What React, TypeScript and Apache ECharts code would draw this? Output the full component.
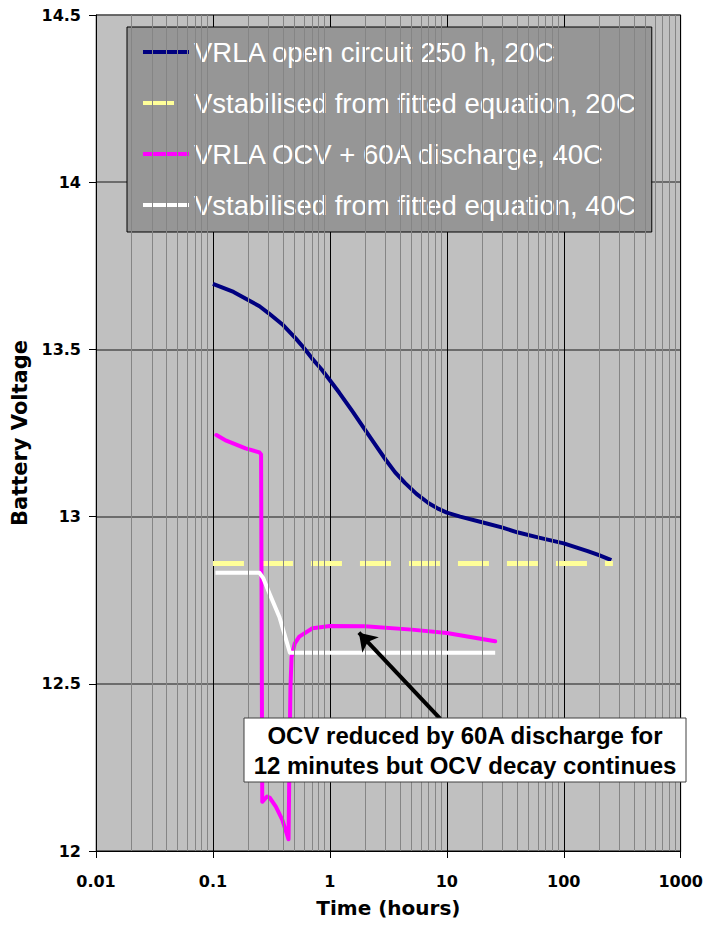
import React, { useEffect, useRef } from "react";
import * as echarts from "echarts";

// ---- data (time in hours, battery voltage in V) ----
const NAVY_T = [0.1, 0.15, 0.2, 0.25, 0.3, 0.4, 0.51, 0.6, 0.7, 0.85, 1, 1.2, 1.55, 2, 2.5, 3, 3.6, 4.4, 5.5, 7, 8.5, 10, 13, 20, 30, 40, 60, 100, 160, 200, 255];
const NAVY_V = [13.696, 13.672, 13.648, 13.629, 13.608, 13.572, 13.533, 13.504, 13.474, 13.44, 13.408, 13.371, 13.316, 13.259, 13.21, 13.17, 13.133, 13.1, 13.068, 13.04, 13.023, 13.012, 13.0, 12.983, 12.967, 12.953, 12.938, 12.92, 12.897, 12.885, 12.87];

const YELLOW_T = [0.1, 263];
const YELLOW_V = [12.86, 12.86];

const MAGENTA_T = [0.107, 0.13, 0.19, 0.25, 0.258, 0.264, 0.29, 0.305, 0.345, 0.392, 0.443, 0.452, 0.46, 0.47, 0.5, 0.547, 0.71, 1, 2, 5, 10, 25.9];
const MAGENTA_V = [13.244, 13.227, 13.204, 13.192, 13.186, 12.147, 12.163, 12.16, 12.133, 12.093, 12.035, 12.3, 12.49, 12.58, 12.62, 12.641, 12.666, 12.673, 12.672, 12.662, 12.652, 12.627];

const WHITE_T = [0.105, 0.25, 0.27, 0.3, 0.37, 0.455, 25.9];
const WHITE_V = [12.832, 12.832, 12.815, 12.775, 12.7, 12.593, 12.593];

const SERIES_NAMES = [
  "VRLA open circuit 250 h, 20C",
  "Vstabilised from fitted equation, 20C",
  "VRLA OCV + 60A discharge, 40C",
  "Vstabilised from fitted equation, 40C",
];
const SERIES_COLORS = ["#000080", "#ffff99", "#ff00ff", "#ffffff"];

const X_TICK_LABELS = ["0.01", "0.1", "1", "10", "100", "1000"];
const Y_MIN = 12;
const Y_MAX = 14.5;
const Y_STEP = 0.5;

// annotation arrow (tail at the text box, head near the magenta curve)
const ARROW_TAIL: [number, number] = [8.8, 12.395];
const ARROW_HEAD: [number, number] = [1.77, 12.653];
const NOTE_TEXT = "OCV reduced by 60A discharge for\n12 minutes but OCV decay continues";

const zip = (t: number[], v: number[]) => t.map((x, i) => [x, v[i]]);

const minorValues: number[] = [];
for (let d = -2; d <= 2; d++) {
  for (let k = 2; k <= 9; k++) {
    minorValues.push(Number((k * Math.pow(10, d)).toPrecision(3)));
  }
}

const SOLID_ICON = "path://M0,0H46V5H0Z";
const DASH_ICON = "path://M0,0H31V5H0ZM45.9,0H46V0.05H45.9Z";

export default function App() {
  const ref = useRef<HTMLDivElement>(null);

  useEffect(() => {
    if (!ref.current) return;
    const chart = echarts.init(ref.current, undefined, { renderer: "svg" });
    const axisFont = "DejaVu Sans";
    const option: any = {
      animation: false,
      backgroundColor: "#ffffff",
      grid: {
        left: 96,
        right: 23,
        top: 15,
        bottom: 74,
        show: true,
        backgroundColor: "#c0c0c0",
        borderColor: "#808080",
        borderWidth: 1,
      },
      legend: {
        data: SERIES_NAMES.map((n, i) => ({
          name: n,
          icon: i === 1 ? DASH_ICON : SOLID_ICON,
          itemStyle: { color: SERIES_COLORS[i], borderWidth: 0 },
          lineStyle: { width: 0 },
        })),
        orient: "vertical",
        left: 127,
        top: 27,
        padding: [11, 16, 13, 16],
        itemGap: 23,
        itemWidth: 46,
        itemHeight: 4,
        symbolKeepAspect: false,
        selectedMode: false,
        backgroundColor: "#969696",
        borderColor: "#000000",
        borderWidth: 1,
        itemStyle: { borderWidth: 0 },
        lineStyle: { width: 0 },
        textStyle: {
          color: "#ffffff",
          fontSize: 27.5,
          fontFamily: "Liberation Sans",
        },
      },
      xAxis: {
        type: "log",
        logBase: 10,
        min: 0.01,
        max: 1000,
        name: "Time (hours)",
        nameLocation: "middle",
        nameGap: 47,
        nameTextStyle: { fontFamily: axisFont, fontWeight: "bold", fontSize: 20, color: "#000" },
        axisLine: { show: true, lineStyle: { color: "#000", width: 1 } },
        axisTick: { show: true, length: 7, lineStyle: { color: "#000" } },
        axisLabel: {
          margin: 22,
          fontFamily: axisFont,
          fontWeight: "bold",
          fontSize: 16,
          color: "#000",
          formatter: (v: number) => {
            let best = X_TICK_LABELS[0];
            let bd = Infinity;
            for (const s of X_TICK_LABELS) {
              const d = Math.abs(Math.log10(Number(s)) - Math.log10(v));
              if (d < bd) { bd = d; best = s; }
            }
            return best;
          },
        },
        splitLine: { show: true, lineStyle: { color: "#000", width: 1 } },
        minorTick: { show: false },
        minorSplitLine: { show: false },
      },
      yAxis: {
        type: "value",
        min: Y_MIN,
        max: Y_MAX,
        interval: Y_STEP,
        name: "Battery Voltage",
        nameLocation: "middle",
        nameGap: 62,
        nameTextStyle: { fontFamily: axisFont, fontWeight: "bold", fontSize: 21, color: "#000" },
        axisLine: { show: true, lineStyle: { color: "#000", width: 1 } },
        axisTick: { show: true, length: 7, lineStyle: { color: "#000" } },
        axisLabel: {
          margin: 15,
          fontFamily: axisFont,
          fontWeight: "bold",
          fontSize: 16,
          color: "#000",
        },
        splitLine: { show: true, lineStyle: { color: "#505050", width: 1.6 } },
      },
      series: [
        {
          name: "minor-grid",
          type: "line",
          data: [[1, 13]],
          showSymbol: false,
          symbol: "none",
          lineStyle: { width: 0, opacity: 0 },
          silent: true,
          z: 1,
          markLine: {
            silent: true,
            symbol: ["none", "none"],
            label: { show: false },
            emphasis: { disabled: true },
            lineStyle: { color: "#858585", width: 1, type: "solid" },
            data: minorValues.map((v) => ({ xAxis: v })),
          },
        },
        {
          name: SERIES_NAMES[0],
          type: "line",
          data: zip(NAVY_T, NAVY_V),
          showSymbol: false,
          symbol: "none",
          color: SERIES_COLORS[0],
          lineStyle: { color: SERIES_COLORS[0], width: 4, join: "round" },
          z: 3,
        },
        {
          name: SERIES_NAMES[1],
          type: "line",
          data: zip(YELLOW_T, YELLOW_V),
          showSymbol: false,
          symbol: "none",
          color: SERIES_COLORS[1],
          lineStyle: { color: SERIES_COLORS[1], width: 5, type: [31, 18], cap: "butt" },
          z: 3,
        },
        {
          name: SERIES_NAMES[2],
          type: "line",
          data: zip(MAGENTA_T, MAGENTA_V),
          showSymbol: false,
          symbol: "none",
          color: SERIES_COLORS[2],
          lineStyle: { color: SERIES_COLORS[2], width: 4, join: "round", cap: "round" },
          z: 3,
        },
        {
          name: SERIES_NAMES[3],
          type: "line",
          data: zip(WHITE_T, WHITE_V),
          showSymbol: false,
          symbol: "none",
          color: SERIES_COLORS[3],
          lineStyle: { color: SERIES_COLORS[3], width: 4, join: "round" },
          z: 3,
        },
        {
          name: "arrow",
          type: "line",
          data: [[1, 13]],
          showSymbol: false,
          symbol: "none",
          lineStyle: { width: 0, opacity: 0 },
          silent: true,
          z: 5,
          markLine: {
            silent: true,
            symbol: ["none", "arrow"],
            symbolSize: 17,
            label: { show: false },
            emphasis: { disabled: true },
            lineStyle: { color: "#000", width: 4, type: "solid" },
            data: [[{ coord: ARROW_TAIL }, { coord: ARROW_HEAD }]],
          },
        },
      ],
      graphic: [
        {
          type: "rect",
          z: 100,
          shape: { x: 244, y: 718, width: 442, height: 64 },
          style: { fill: "#ffffff", stroke: "#404040", lineWidth: 1 },
        },
        {
          type: "text",
          z: 101,
          x: 465,
          y: 750,
          style: {
            text: NOTE_TEXT,
            align: "center",
            verticalAlign: "middle",
            fontFamily: "Liberation Sans",
            fontWeight: "bold",
            fontSize: 24,
            lineHeight: 30,
            fill: "#000",
          },
        },
      ],
    };
    chart.setOption(option);
    return () => chart.dispose();
  }, []);

  return (
    <div
      ref={ref}
      style={{ position: "fixed", left: 0, top: 0, width: 706, height: 925 }}
    />
  );
}
